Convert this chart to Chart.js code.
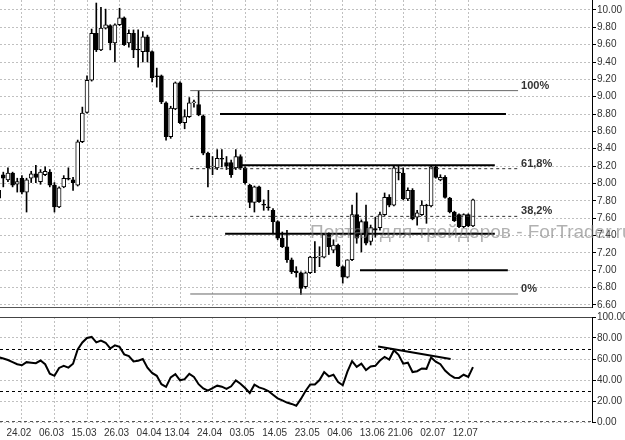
<!DOCTYPE html>
<html>
<head>
<meta charset="utf-8">
<script src="https://cdn.jsdelivr.net/npm/chart.js@4.4.0/dist/chart.umd.min.js"></script>
<style>
  body { margin: 0; background: #fff; }
  #wrap { position: relative; width: 625px; height: 440px; overflow: hidden; background: #fff; }
  #priceBox { position: absolute; left: 0; top: 0; }
  #rsiBox { position: absolute; left: 0; top: 308px; }
</style>
</head>
<body>
<div id="wrap">
  <canvas id="priceBox" width="625" height="308"></canvas>
  <canvas id="rsiBox" width="625" height="132"></canvas>
</div>
<script>
// Daily candles, one entry per bar (oldest first)
const opens = [7.92, 8.10, 8.04, 8.12, 7.99, 8.06, 7.90, 8.06, 8.11, 8.02,
  8.10, 8.13, 7.98, 7.73, 7.96, 8.06, 8.04, 7.98, 8.48, 8.82,
  9.19, 9.73, 9.54, 9.79, 9.82, 9.62, 9.83, 9.91, 9.62, 9.73,
  9.55, 9.52, 9.69, 9.52, 9.24, 9.24, 8.93, 8.54, 8.86, 9.16,
  8.70, 8.77, 8.93, 8.91, 8.78, 8.35, 8.19, 8.18, 8.29, 8.24,
  8.24, 8.18, 8.31, 8.18, 7.98, 7.78, 7.96, 7.76, 7.73, 7.69,
  7.56, 7.37, 7.27, 7.12, 6.99, 6.97, 6.81, 6.97, 7.15, 7.15,
  7.15, 7.41, 7.23, 7.29, 7.04, 6.92, 7.12, 7.64, 7.41, 7.56,
  7.33, 7.48, 7.49, 7.64, 7.84, 7.75, 8.13, 8.12, 7.82, 7.92,
  7.61, 7.64, 7.75, 7.74, 8.19, 8.04, 8.07, 7.83, 7.67, 7.64,
  7.50, 7.64, 7.51];
const highs = [7.97, 8.13, 8.18, 8.13, 8.06, 8.09, 8.06, 8.14, 8.21, 8.16,
  8.19, 8.16, 8.01, 7.96, 8.09, 8.18, 8.07, 8.50, 8.88, 9.24,
  9.78, 10.08, 10.03, 10.01, 9.83, 9.84, 10.02, 9.92, 9.77, 9.77,
  9.77, 9.75, 9.71, 9.53, 9.33, 9.25, 8.94, 8.89, 9.17, 9.17,
  8.85, 8.99, 8.96, 9.07, 8.79, 8.36, 8.31, 8.39, 8.39, 8.31,
  8.27, 8.39, 8.33, 8.19, 7.99, 7.97, 7.97, 7.81, 7.92, 7.71,
  7.57, 7.44, 7.46, 7.14, 7.04, 6.98, 6.98, 7.16, 7.33, 7.27,
  7.42, 7.43, 7.35, 7.30, 7.05, 7.12, 7.75, 7.89, 7.58, 7.75,
  7.52, 7.61, 7.67, 7.89, 7.87, 8.20, 8.20, 8.18, 7.95, 7.94,
  7.69, 7.80, 7.76, 8.20, 8.20, 8.10, 8.09, 7.84, 7.68, 7.65,
  7.65, 7.65, 7.82];
const lows = [7.79, 7.96, 8.02, 7.96, 7.90, 7.88, 7.67, 8.01, 8.01, 7.99,
  8.09, 7.96, 7.67, 7.72, 7.95, 8.04, 7.92, 7.97, 8.47, 8.81,
  9.18, 9.52, 9.53, 9.78, 9.54, 9.40, 9.82, 9.59, 9.57, 9.45,
  9.34, 9.40, 9.40, 9.17, 9.11, 8.92, 8.50, 8.52, 8.85, 8.69,
  8.63, 8.76, 8.88, 8.78, 8.33, 7.96, 8.10, 8.16, 8.19, 8.16,
  8.07, 8.16, 8.16, 7.99, 7.72, 7.67, 7.78, 7.69, 7.69, 7.43,
  7.35, 7.26, 7.09, 6.96, 6.92, 6.72, 6.79, 6.96, 6.97, 7.04,
  7.14, 7.18, 7.20, 7.04, 6.85, 6.91, 7.11, 7.31, 7.21, 7.29,
  7.29, 7.38, 7.46, 7.63, 7.73, 7.74, 8.04, 7.81, 7.80, 7.58,
  7.52, 7.63, 7.54, 7.73, 8.06, 8.03, 7.83, 7.66, 7.56, 7.49,
  7.49, 7.50, 7.50];
const closes = [7.83, 8.06, 8.12, 7.98, 8.02, 7.90, 8.04, 8.11, 8.07, 8.13,
  8.14, 7.98, 7.73, 7.95, 8.06, 8.05, 8.01, 8.48, 8.81, 9.19,
  9.73, 9.54, 9.79, 9.83, 9.62, 9.83, 9.91, 9.60, 9.73, 9.54,
  9.54, 9.69, 9.52, 9.22, 9.23, 8.94, 8.54, 8.87, 9.16, 8.70,
  8.77, 8.93, 8.94, 8.79, 8.35, 8.18, 8.20, 8.29, 8.28, 8.20,
  8.10, 8.31, 8.18, 8.01, 7.78, 7.96, 7.79, 7.75, 7.72, 7.56,
  7.37, 7.27, 7.12, 6.98, 6.97, 6.79, 6.97, 7.15, 7.14, 7.16,
  7.41, 7.27, 7.29, 7.05, 6.92, 7.12, 7.64, 7.37, 7.56, 7.31,
  7.49, 7.46, 7.64, 7.84, 7.75, 8.18, 8.12, 7.82, 7.92, 7.59,
  7.66, 7.75, 7.74, 8.19, 8.07, 8.07, 7.84, 7.67, 7.57, 7.50,
  7.64, 7.51, 7.81];

// RSI value for each bar
const rsiValues = [61.6, 60.5, 59, 57, 55, 54, 57, 56.5, 56, 58.5,
  55, 46, 44, 51.5, 53.5, 51.8, 55.5, 69, 75.7, 80,
  81, 75.8, 77.6, 75.5, 70, 73, 71.5, 64.4, 62.8, 57.6,
  58.4, 60, 51.8, 46.8, 44, 36, 33.5, 42.5, 45.5, 39.7,
  40.8, 45.8, 43, 36, 32, 29.8, 32.3, 34.6, 33.6, 31.5,
  34, 39.6, 36.4, 32.3, 27.6, 35.5, 33, 31.6, 29.5, 26,
  22.5, 20.6, 18.5, 17.2, 15.5, 22, 29.5, 35.8, 35.8, 40,
  47.5, 43.5, 45, 38, 35, 48, 58, 52.5, 55.5, 49.5,
  52.8, 53.5, 58.5, 62, 59.5, 68.4, 64, 55.5, 56.5, 47.6,
  48.4, 51, 50.6, 61.5, 57.5, 55, 49, 45, 42.2, 42,
  45, 43, 52.2];

// Time axis labels and the bars they sit on
const dateLabels = ['24.02', '06.03', '15.03', '26.03', '04.04', '13.04', '24.04', '03.05',
  '14.05', '23.05', '04.06', '13.06', '21.06', '02.07', '12.07'];
const dateBars = [5, 12, 19, 26, 33, 39, 46, 53, 60, 67, 74, 81, 87, 94, 101];

const priceTicks = [6.6, 6.8, 7.0, 7.2, 7.4, 7.6, 7.8, 8.0, 8.2, 8.4, 8.6, 8.8,
  9.0, 9.2, 9.4, 9.6, 9.8, 10.0];
const rsiTicks = [0, 20, 40, 60, 80, 100];
const rsiLevels = [30, 70];

// Fibonacci retracement
const fibNames = ['100%', '61,8%', '38,2%', '0%'];
const fibPrices = [9.07, 8.17, 7.62, 6.725];
const fibFromBar = 41.2;
const fibToBar = 111.7;

// Horizontal support / resistance lines
const levelPrices = [8.80, 8.21, 7.42, 7.00];
const levelFromBars = [47.6, 52.3, 48.7, 77.7];
const levelToBars = [109.1, 106.7, 106.7, 109.5];

// RSI trend line
const rsiTrendBars = [81.6, 97.2];
const rsiTrendValues = [72, 60];

const watermark = 'Портал для трейдеров - ForTrader.ru';

const xMin = 0.29;
const xMax = 127.6;
const labelFont = { family: 'Liberation Sans', size: 10 };

const fibDatasets = fibPrices.map((p, k) => ({
  type: 'line',
  data: [{ x: fibFromBar, y: p }, { x: fibToBar, y: p }],
  borderColor: (k === 1 || k === 2) ? '#333' : '#666',
  borderWidth: 1,
  borderDash: (k === 1 || k === 2) ? [3, 3] : [],
  pointRadius: 0,
  order: 1
}));

const levelDatasets = levelPrices.map((p, k) => ({
  type: 'line',
  data: [{ x: levelFromBars[k], y: p }, { x: levelToBars[k], y: p }],
  borderColor: '#000',
  borderWidth: 2,
  pointRadius: 0,
  order: 0
}));

const priceOverlay = {
  id: 'priceOverlay',
  afterDatasetsDraw(chart) {
    const { ctx, scales: { x, y } } = chart;
    ctx.save();
    ctx.font = 'bold 11px "Liberation Sans"';
    ctx.fillStyle = '#333';
    ctx.textBaseline = 'alphabetic';
    fibNames.forEach((name, k) => {
      ctx.fillText(name, x.getPixelForValue(fibToBar) + 3, y.getPixelForValue(fibPrices[k]) - 2);
    });
    ctx.restore();
  },
  afterDraw(chart) {
    const ctx = chart.ctx;
    ctx.save();
    ctx.font = '19px "Liberation Sans"';
    ctx.fillStyle = 'rgba(125,125,125,0.6)';
    ctx.fillText(watermark, 310, 238);
    ctx.restore();
  }
};

new Chart(document.getElementById('priceBox'), {
  type: 'bar',
  data: {
    datasets: [
      ...levelDatasets,
      ...fibDatasets,
      {
        data: opens.map((o, i) => ({ x: i, y: [o, closes[i]] })),
        backgroundColor: opens.map((o, i) => closes[i] >= o ? '#fff' : '#000'),
        borderColor: '#000',
        borderWidth: 1,
        borderSkipped: false,
        barThickness: 4,
        maxBarThickness: 4,
        grouped: false,
        order: 2
      },
      {
        data: lows.map((l, i) => ({ x: i, y: [l, highs[i]] })),
        backgroundColor: '#000',
        borderWidth: 0,
        barThickness: 1,
        maxBarThickness: 1,
        grouped: false,
        order: 3
      }
    ]
  },
  options: {
    responsive: false,
    animation: false,
    layout: { padding: { top: 0, bottom: 1, left: 0, right: 0 } },
    plugins: { legend: { display: false }, tooltip: { enabled: false } },
    scales: {
      x: {
        type: 'linear', min: xMin, max: xMax, offset: false,
        grid: { color: '#c0c0c0', drawTicks: false, offset: false },
        border: { display: true, color: '#555', dash: [2, 2] },
        ticks: { display: false },
        afterBuildTicks: s => { s.ticks = dateBars.map(v => ({ value: v })); },
        afterFit: s => { s.height = 0; s.paddingLeft = 0; s.paddingRight = 0; }
      },
      y: {
        position: 'right', min: 6.575, max: 10.115,
        grid: { color: '#c0c0c0', tickLength: 4, tickColor: '#000', tickBorderDash: [] },
        border: { display: true, color: '#000', dash: [2, 2] },
        ticks: { color: '#333', font: labelFont, padding: 1, callback: v => v.toFixed(2) },
        afterBuildTicks: s => { s.ticks = priceTicks.map(v => ({ value: v })); },
        afterFit: s => { s.width = 33; s.paddingTop = 0; s.paddingBottom = 0; }
      }
    }
  },
  plugins: [priceOverlay]
});

const rsiOverlay = {
  id: 'rsiOverlay',
  beforeDatasetsDraw(chart) {
    const { ctx, chartArea, scales: { y } } = chart;
    ctx.save();
    ctx.strokeStyle = '#000';
    ctx.lineWidth = 1;
    ctx.setLineDash([3, 3]);
    rsiLevels.forEach(v => {
      const py = Math.round(y.getPixelForValue(v)) + 0.5;
      ctx.beginPath();
      ctx.moveTo(chartArea.left, py);
      ctx.lineTo(chartArea.right, py);
      ctx.stroke();
    });
    // zero line
    ctx.strokeStyle = '#555';
    let py = Math.round(y.getPixelForValue(0)) - 0.5;
    ctx.beginPath(); ctx.moveTo(chartArea.left, py); ctx.lineTo(chartArea.right, py); ctx.stroke();
    // top frame
    ctx.setLineDash([]);
    ctx.strokeStyle = '#444';
    py = Math.round(y.getPixelForValue(100)) + 0.5;
    ctx.beginPath(); ctx.moveTo(chartArea.left, py); ctx.lineTo(chartArea.right, py); ctx.stroke();
    ctx.restore();
  }
};

new Chart(document.getElementById('rsiBox'), {
  type: 'line',
  data: {
    datasets: [
      {
        data: rsiValues.map((v, i) => ({ x: i, y: v })),
        borderColor: '#000', borderWidth: 2, pointRadius: 0, tension: 0, order: 2
      },
      {
        data: rsiTrendBars.map((b, k) => ({ x: b, y: rsiTrendValues[k] })),
        borderColor: '#000', borderWidth: 2, pointRadius: 0, order: 1
      }
    ]
  },
  options: {
    responsive: false,
    animation: false,
    layout: { padding: { top: 9, bottom: 0, left: 0, right: 0 } },
    plugins: { legend: { display: false }, tooltip: { enabled: false } },
    scales: {
      x: {
        type: 'linear', min: xMin, max: xMax,
        grid: { color: '#c0c0c0', drawTicks: false },
        border: { display: false, dash: [2, 2] },
        ticks: {
          color: '#333', font: labelFont, padding: 5, maxRotation: 0, autoSkip: false, labelOffset: -3,
          callback: (v, k) => dateLabels[k]
        },
        afterBuildTicks: s => { s.ticks = dateBars.map(v => ({ value: v })); },
        afterFit: s => { s.height = 18; s.paddingLeft = 0; s.paddingRight = 0; }
      },
      y: {
        position: 'right', min: 0, max: 100,
        grid: { color: '#c0c0c0', tickLength: 4, tickColor: '#000', tickBorderDash: [] },
        border: { display: true, color: '#000', dash: [2, 2] },
        ticks: { color: '#333', font: labelFont, padding: 1, callback: v => v.toFixed(2) },
        afterBuildTicks: s => { s.ticks = rsiTicks.map(v => ({ value: v })); },
        afterFit: s => { s.width = 33; s.paddingTop = 0; s.paddingBottom = 0; }
      }
    }
  },
  plugins: [rsiOverlay]
});
</script>
</body>
</html>
